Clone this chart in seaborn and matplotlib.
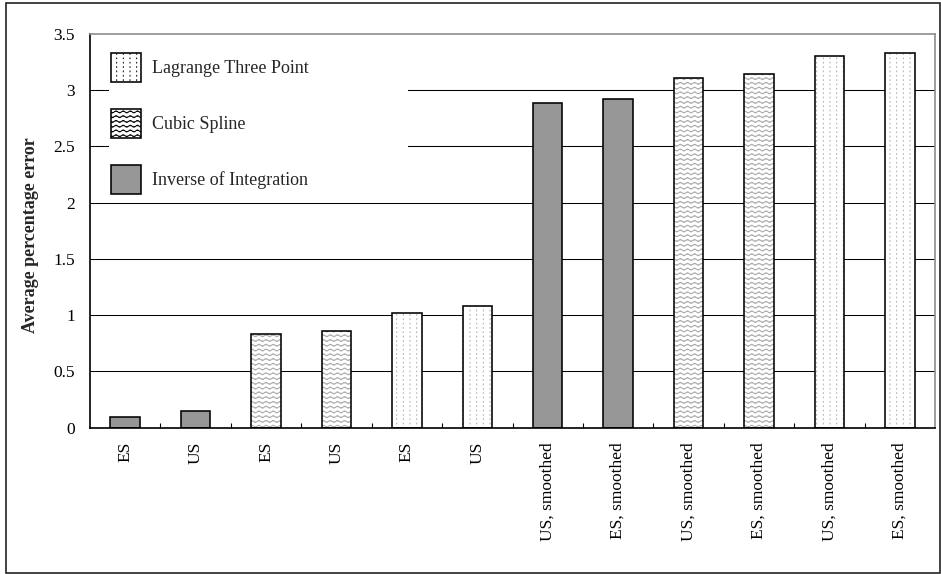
import numpy as np
import pandas as pd
import matplotlib
matplotlib.use("Agg")
import matplotlib.pyplot as plt
import matplotlib.hatch as mhatch
from matplotlib.path import Path
from matplotlib.patches import Patch, Rectangle
import seaborn as sns

# ---- data -------------------------------------------------------------
categories = ["ES", "US", "ES", "US", "ES", "US",
              "US, smoothed", "ES, smoothed", "US, smoothed",
              "ES, smoothed", "US, smoothed", "ES, smoothed"]
methods = ["Inverse of Integration", "Inverse of Integration",
           "Cubic Spline", "Cubic Spline",
           "Lagrange Three Point", "Lagrange Three Point",
           "Inverse of Integration", "Inverse of Integration",
           "Cubic Spline", "Cubic Spline",
           "Lagrange Three Point", "Lagrange Three Point"]
errors = [0.09, 0.15, 0.83, 0.86, 1.02, 1.08,
          2.89, 2.92, 3.11, 3.14, 3.30, 3.33]
method_order = ["Lagrange Three Point", "Cubic Spline", "Inverse of Integration"]
y_ticks = [0, 0.5, 1, 1.5, 2, 2.5, 3, 3.5]
y_tick_labels = ["0", "0.5", "1", "1.5", "2", "2.5", "3", "3.5"]


# ---- custom fill patterns ---------------------------------------------
class WaveHatch(mhatch.HatchPatternBase):
    """Rows of small sine waves ('~')."""
    waves_per_row = 14
    points_per_wave = 8
    amplitude = 0.010

    def __init__(self, hatch, density):
        self.num_rows = hatch.count("~") * 7
        self.points_per_row = self.waves_per_row * self.points_per_wave + 1
        self.num_vertices = self.num_rows * self.points_per_row

    def set_vertices_and_codes(self, vertices, codes):
        t = np.linspace(0.0, 1.0, self.points_per_row)
        wave = self.amplitude * np.sin(2 * np.pi * self.waves_per_row * t)
        for row in range(self.num_rows):
            start = row * self.points_per_row
            sl = slice(start, start + self.points_per_row)
            vertices[sl, 0] = t
            vertices[sl, 1] = (row + 0.5) / self.num_rows + wave
            codes[sl] = Path.LINETO
            codes[start] = Path.MOVETO


class DotHatch(mhatch.HatchPatternBase):
    """Regular grid of tiny dots (':')."""
    cols = 15
    dot = 0.007

    def __init__(self, hatch, density):
        self.rows = hatch.count(":") * 23
        self.num_vertices = self.rows * self.cols * 2

    def set_vertices_and_codes(self, vertices, codes):
        k = 0
        for r in range(self.rows):
            y = (r + 0.5) / self.rows
            for c in range(self.cols):
                x = (c + 0.5) / self.cols
                vertices[k] = (x, y)
                vertices[k + 1] = (x, y + self.dot)
                codes[k] = Path.MOVETO
                codes[k + 1] = Path.LINETO
                k += 2


mhatch._hatch_types.extend([WaveHatch, DotHatch])

# ---- style ------------------------------------------------------------
sns.set_theme(style="white")
plt.rcParams["font.family"] = ["Liberation Serif", "DejaVu Serif"]
plt.rcParams["hatch.linewidth"] = 0.7

fills = {"Lagrange Three Point": "white",
         "Cubic Spline": "white",
         "Inverse of Integration": "#969696"}
patterns = {"Lagrange Three Point": ":",
            "Cubic Spline": "~~~",
            "Inverse of Integration": ""}
pattern_grey = "#ababab"

fig = plt.figure(figsize=(9.41, 5.74), dpi=100)
fig.patch.set_facecolor("white")
ax = fig.add_axes([90 / 941, 1 - 427.5 / 574, 845 / 941, 393.5 / 574])

df = pd.DataFrame({
    "slot": [f"b{i}" for i in range(len(errors))],
    "method": methods,
    "error": errors,
})

sns.barplot(data=df, x="slot", y="error", hue="method", palette=fills,
            dodge=False, width=0.42, saturation=1, legend=False, ax=ax)

# grey pattern inside each bar, black outline on top
for bar in list(ax.patches):
    h = bar.get_height()
    if not np.isfinite(h) or h == 0:
        continue
    idx = int(round(bar.get_x() + bar.get_width() / 2))
    m = methods[idx]
    bar.set_linewidth(0)
    if patterns[m]:
        bar.set_edgecolor(pattern_grey)
        bar.set_hatch(patterns[m])
    ax.add_patch(Rectangle(bar.get_xy(), bar.get_width(), h, fill=False,
                           edgecolor="black", lw=1.15,
                           zorder=bar.get_zorder() + 0.1))

# ---- axes -------------------------------------------------------------
ax.set_xlim(-0.5, len(errors) - 0.5)
ax.set_ylim(0, 3.5)
ax.set_yticks(y_ticks, y_tick_labels)
ax.set_xticks(range(len(categories)), categories, rotation=90)
ax.set_xticks(np.arange(0.5, len(categories) - 1, 1.0), minor=True)
ax.set_xlabel("")
ax.set_ylabel("Average percentage error", fontweight="bold", fontsize=13)
ax.yaxis.set_label_coords(-0.060, 0.49)

ax.tick_params(axis="x", which="major", length=0, pad=10.5,
               labelsize=12.5, labelcolor="black")
ax.tick_params(axis="x", which="minor", direction="in", length=3.6,
               width=0.8, color="black", bottom=True)
ax.tick_params(axis="y", length=0, pad=11, labelsize=12.5,
               labelcolor="black")
for lbl in ax.get_xticklabels():
    lbl.set_verticalalignment("top")

ax.yaxis.grid(True, color="black", lw=0.75)
ax.set_axisbelow(True)
ax.yaxis.get_gridlines()[-1].set_visible(False)

for side in ("top", "right"):
    ax.spines[side].set_color("#8c8c8c")
    ax.spines[side].set_linewidth(1.2)
for side in ("left", "bottom"):
    ax.spines[side].set_color("black")
    ax.spines[side].set_linewidth(1.2)

# ---- legend -----------------------------------------------------------
handles = [Patch(facecolor=fills[m], edgecolor="black",
                 hatch=patterns[m], lw=1.15) for m in method_order]
ax.legend(handles, method_order, loc="upper left",
          bbox_to_anchor=(0.022, 0.958, 0.354, 0), mode="expand",
          borderaxespad=0, borderpad=0.15, fontsize=13,
          handlelength=1.66, handleheight=2.09, labelspacing=1.5,
          handletextpad=0.6, frameon=True, fancybox=False,
          framealpha=1, facecolor="white", edgecolor="none")

# outer frame around the chart
fig.add_artist(Rectangle((5.5 / 941, 1.5 / 574), (940 - 5.5) / 941,
                         (571 - 1.5) / 574, transform=fig.transFigure,
                         fill=False, edgecolor="#222222", lw=1.2))

fig.savefig("out.png", dpi=100)
